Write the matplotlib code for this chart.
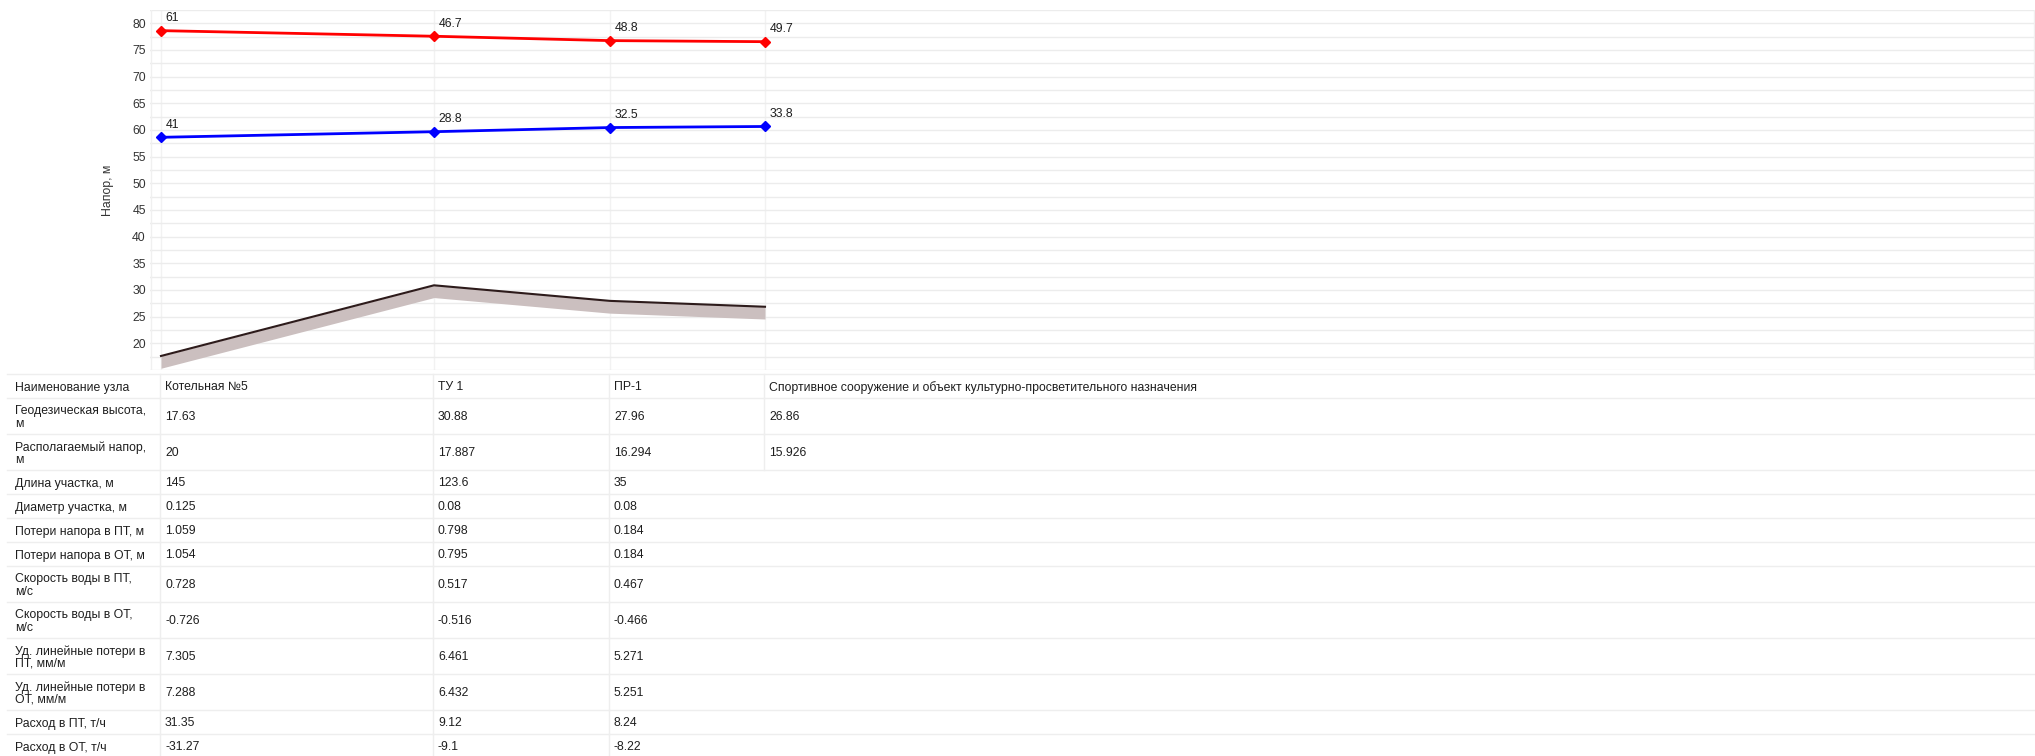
import matplotlib
matplotlib.use("Agg")
import matplotlib.pyplot as plt
from matplotlib.lines import Line2D
import numpy as np

plt.rcParams['font.family'] = ['Liberation Sans', 'DejaVu Sans']

# ---- data -------------------------------------------------------------
nodes = ["Котельная №5", "ТУ 1", "ПР-1",
         "Спортивное сооружение и объект культурно-просветительного назначения"]
geo_height = [17.63, 30.88, 27.96, 26.86]          # геодезическая высота, м
avail_head = [20, 17.887, 16.294, 15.926]          # располагаемый напор, м
seg_length = [145, 123.6, 35]
seg_diam = [0.125, 0.08, 0.08]
loss_pt = [1.059, 0.798, 0.184]
loss_ot = [1.054, 0.795, 0.184]
vel_pt = [0.728, 0.517, 0.467]
vel_ot = [-0.726, -0.516, -0.466]
spec_loss_pt = [7.305, 6.461, 5.271]
spec_loss_ot = [7.288, 6.432, 5.251]
flow_pt = [31.35, 9.12, 8.24]
flow_ot = [-31.27, -9.1, -8.22]
head_pt = [61, 46.7, 48.8, 49.7]                   # напор в подающем, м
head_ot = [41, 28.8, 32.5, 33.8]                   # напор в обратном, м

y_ticks = [20, 25, 30, 35, 40, 45, 50, 55, 60, 65, 70, 75, 80]

table_rows = [
    ("Наименование узла", nodes),
    ("Геодезическая высота,\nм", geo_height),
    ("Располагаемый напор,\nм", avail_head),
    ("Длина участка, м", seg_length),
    ("Диаметр участка, м", seg_diam),
    ("Потери напора в ПТ, м", loss_pt),
    ("Потери напора в ОТ, м", loss_ot),
    ("Скорость воды в ПТ,\nм/с", vel_pt),
    ("Скорость воды в ОТ,\nм/с", vel_ot),
    ("Уд. линейные потери в\nПТ, мм/м", spec_loss_pt),
    ("Уд. линейные потери в\nОТ, мм/м", spec_loss_ot),
    ("Расход в ПТ, т/ч", flow_pt),
    ("Расход в ОТ, т/ч", flow_ot),
]

# ---- layout (pixels) --------------------------------------------------
W, H = 2035, 756
DPI = 100
col_edges = [7, 160, 433, 609, 764]
table_top = 374
plot_left, plot_top, plot_bottom = 150, 10, 370
FS = 8.8
TXT = "#1e1e1e"
GRID = "#ececec"

fig = plt.figure(figsize=(W / DPI, H / DPI), dpi=DPI)
fig.patch.set_facecolor("white")

# ---- profile chart ----------------------------------------------------
ax = fig.add_axes([plot_left / W, 1 - plot_bottom / H,
                   (W - plot_left) / W, (plot_bottom - plot_top) / H])
ax.set_xlim(plot_left, W)
ax.set_ylim(15, 82.5)

node_x = np.array(col_edges[1:]) + 1
geo = np.array(geo_height)
pt_line = geo + np.array(head_pt)
ot_line = geo + np.array(head_ot)

ax.set_yticks(y_ticks)
ax.set_yticklabels([str(v) for v in y_ticks], fontsize=FS, color="#333333")
ax.set_yticks(np.arange(15, 82.6, 2.5), minor=True)
ax.set_xticks(node_x)
ax.set_xticklabels([])
ax.tick_params(axis="both", which="both", length=0, pad=3)
ax.grid(True, which="both", axis="y", color=GRID, lw=1)
ax.grid(True, which="major", axis="x", color="#f2f2f2", lw=1)
for s in ax.spines.values():
    s.set_visible(False)
ax.axvline(plot_left + 1, color="#f0f0f0", lw=1)
ax.axvline(W - 1, color="#f0f0f0", lw=1)
ax.set_axisbelow(True)

ax.set_ylabel("Напор, м", fontsize=FS, color="#333333")
ax.yaxis.set_label_coords(-(plot_left - 114) / (W - plot_left), 0.5)

# ground profile: thick shaded band beneath a dark outline
ax.fill_between(node_x, geo - 2.3, geo, color="#cbbfbf", lw=0, zorder=2)
ax.plot(node_x, geo, color="#2d1b1b", lw=1.5, zorder=3)

ax.plot(node_x, pt_line, color="#ff0000", lw=2, marker="D", ms=5.5, zorder=4)
ax.plot(node_x, ot_line, color="#0000ff", lw=2, marker="D", ms=5.5, zorder=4)

for x, y, v in zip(node_x, pt_line, head_pt):
    ax.annotate(f"{v:g}", (x, y), xytext=(3.5, 4.5), textcoords="offset points",
                fontsize=FS, color=TXT, ha="left", va="bottom")
for x, y, v in zip(node_x, ot_line, head_ot):
    ax.annotate(f"{v:g}", (x, y), xytext=(3.5, 4.5), textcoords="offset points",
                fontsize=FS, color=TXT, ha="left", va="bottom")

# ---- data table beneath the chart -------------------------------------
tax = fig.add_axes([0, 0, 1, 1], zorder=-1)
tax.set_xlim(0, W)
tax.set_ylim(H, 0)
tax.axis("off")

LINE = "#eeeeee"
y = table_top
tax.add_line(Line2D([col_edges[0], W], [y, y], color=LINE, lw=1))
for label, values in table_rows:
    nlines = label.count("\n") + 1
    h = 12 + 12 * nlines
    yc = y + h / 2 + 1.5
    tax.text(col_edges[0] + 8, yc, label, fontsize=FS, color=TXT,
             ha="left", va="center", linespacing=1.05, multialignment="left")
    for i, v in enumerate(values):
        s = v if isinstance(v, str) else f"{v:g}"
        tax.text(col_edges[i + 1] + 5, yc, s, fontsize=FS, color=TXT,
                 ha="left", va="center")
    ncols = len(values)
    for i in range(ncols):
        xe = col_edges[i + 1]
        tax.add_line(Line2D([xe, xe], [y, y + h], color=LINE, lw=1))
    y += h
    tax.add_line(Line2D([col_edges[0], W], [y, y], color=LINE, lw=1))

fig.savefig("out.png", dpi=DPI, facecolor="white")
